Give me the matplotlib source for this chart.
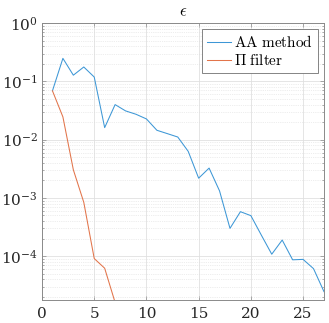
import numpy as np
import matplotlib
matplotlib.use("Agg")
import matplotlib.pyplot as plt
from matplotlib.ticker import LogLocator, NullFormatter

plt.rcParams['mathtext.fontset'] = 'cm'
plt.rcParams['font.family'] = 'DejaVu Serif'

# datos
iter_aa = np.arange(1, 28)
err_aa = [0.069, 0.249, 0.128, 0.177, 0.119, 0.0161, 0.040, 0.0312, 0.0273, 0.0227,
          0.0145, 0.0127, 0.0111, 0.0063, 0.00218, 0.00325, 0.00132, 0.00030, 0.00058,
          0.000496, 0.00023, 0.000108, 0.000189, 8.65e-5, 8.8e-5, 6.1e-5, 2.46e-5]
iter_pi = np.arange(1, 8)
err_pi = [0.069, 0.0246, 0.00304, 8.4e-4, 9.1e-5, 6.2e-5, 1.6e-5]

azul = '#3d97d6'
naranja = '#e2744a'

fig = plt.figure(figsize=(3.29, 3.23), dpi=100)
ax = fig.add_axes([0.1277, 0.0712, 0.857, 0.857])

ax.semilogy(iter_aa, err_aa, color=azul, lw=0.75, label=r'$\mathrm{AA\ method}$')
ax.semilogy(iter_pi, err_pi, color=naranja, lw=0.75, label=r'$\Pi\ \mathrm{filter}$')

ax.set_xlim(0, 27)
ax.set_ylim(10**-4.753, 1)
ax.set_xticks([0, 5, 10, 15, 20, 25])
ax.yaxis.set_major_locator(LogLocator(base=10, numticks=10))
ax.yaxis.set_minor_locator(LogLocator(base=10, subs=np.arange(2, 10), numticks=10))
ax.yaxis.set_minor_formatter(NullFormatter())

# rejilla estilo matlab
ax.grid(True, which='major', color='#e0e0e0', lw=0.6)
ax.grid(True, which='minor', axis='y', color='#dcdcdc', lw=0.5, ls=':')
ax.set_axisbelow(True)

for s in ax.spines.values():
    s.set_color('#8a8a8a')
    s.set_linewidth(0.7)
ax.tick_params(which='both', direction='in', top=True, right=True, color='#8a8a8a',
               labelsize=11, width=0.5, labelcolor='#262626')
ax.tick_params(which='major', length=3)
ax.tick_params(which='minor', length=1.5)
ax.tick_params(axis='x', pad=5)
ax.tick_params(axis='y', pad=3)

ax.set_title(r'$\epsilon$', fontsize=12, pad=5)

leg = ax.legend(loc='upper right', fontsize=11, fancybox=False, framealpha=1,
                edgecolor='#707070', borderpad=0.3, handlelength=1.6,
                handletextpad=0.2, labelspacing=0.2, borderaxespad=0.4)
leg.get_frame().set_linewidth(0.6)

plt.savefig('out.png', dpi=100)
plt.close()
